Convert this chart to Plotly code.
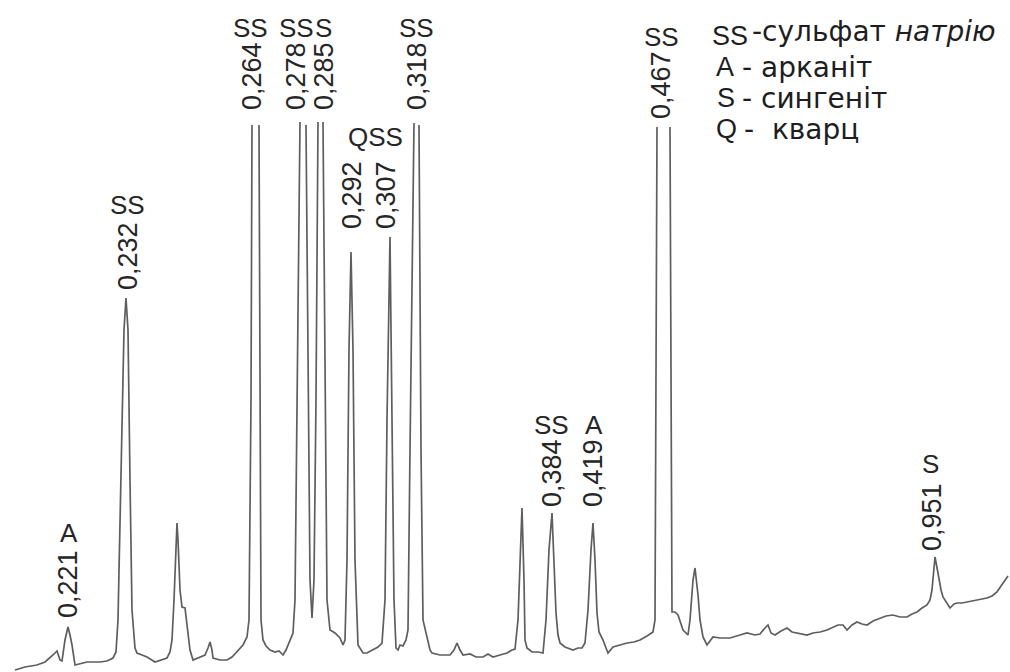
import plotly.graph_objects as go

# ---- data: diffractogram trace (scan position, intensity); None = clipped peak top ----
scan_pos = [15, 25, 37, 45, 53, 57, 60, 62, 65, 68, 70, 72, 75, 87, 100, 107, 113, 116, 118, 121,
            124, 126, 128, 130, 132, 135, 137, 142, 147, 155, 160, 167, 170, 172, 174, 176, 177, 178,
            180, 182, 185, 187, 190, 193, 198, 205, 208, 210, 212, 213, 220, 227, 232, 237, 243, 247,
            249, 251, 252, None, 259, 260, 261, 263, 266, 270, 275, 279, 283, 286, 290, 293, 295, 297,
            300, None, 306, 308, 310, 312, 314, 316, 318, None, 323, 325, 327, 330, 335, 340, 343, 345,
            347, 349, 351, 353, 355, 358, 363, 367, 372, 378, 382, 385, 387, 390, 392, 394, 396, 398,
            400, 403, 406, 408, 410, 414, None, 419, 421, 423, 427, 430, 432, 440, 450, 454, 457, 460,
            463, 470, 476, 483, 488, 493, 500, 507, 512, 515, 518, 520, 522, 524, 525, 527, 532, 538,
            543, 546, 549, 552, 554, 556, 558, 560, 565, 573, 578, 582, 585, 588, 591, 593, 595, 597,
            599, 603, 606, 608, 613, 620, 627, 634, 640, 647, 653, 655, 656, 657, None, 670, 671, 672,
            675, 678, 683, 688, 690, 693, 695, 698, 700, 703, 707, 713, 720, 730, 740, 747, 755, 760,
            765, 768, 771, 775, 781, 787, 792, 797, 807, 813, 820, 827, 833, 838, 843, 847, 852, 857,
            862, 867, 873, 880, 886, 893, 900, 907, 912, 917, 922, 927, 930, 932, 935, 938, 941, 943,
            947, 950, 954, 957, 962, 967, 972, 977, 982, 987, 992, 997, 1001, 1005, 1008]

intensity = [2, 5, 7, 10, 17, 21, 12, 11, 32, 45, 37, 27, 7, 10, 10, 11, 14, 20, 52, 192,
             342, 374, 342, 192, 62, 24, 19, 17, 15, 10, 12, 14, 20, 32, 72, 132, 149, 132,
             82, 65, 64, 47, 22, 12, 14, 17, 24, 30, 22, 14, 12, 12, 15, 20, 27, 35,
             52, 272, 547, None, 547, 272, 52, 32, 26, 22, 20, 21, 17, 22, 32, 39, 72, 272,
             550, None, 547, 272, 92, 54, 92, 272, 550, None, 550, 272, 72, 42, 39, 34, 27, 32,
             112, 322, 420, 322, 112, 27, 19, 19, 22, 25, 29, 72, 252, 435, 252, 72, 24, 22,
             27, 26, 32, 42, 222, 549, None, 547, 222, 52, 35, 22, 19, 17, 17, 22, 29, 22,
             17, 18, 15, 15, 18, 15, 17, 19, 22, 23, 52, 112, 164, 92, 32, 24, 20, 20,
             19, 52, 122, 159, 112, 59, 37, 29, 25, 22, 24, 24, 29, 62, 122, 149, 112, 59,
             40, 32, 24, 19, 25, 27, 29, 30, 32, 36, 40, 52, 272, 545, None, 545, 272, 60,
             60, 57, 42, 37, 52, 92, 104, 77, 52, 35, 27, 35, 34, 34, 37, 39, 37, 38,
             44, 47, 39, 37, 41, 44, 40, 39, 37, 39, 40, 42, 45, 47, 47, 42, 47, 50,
             48, 47, 51, 54, 56, 57, 55, 55, 58, 60, 64, 67, 72, 82, 115, 99, 82, 75,
             68, 64, 68, 69, 69, 70, 71, 72, 73, 74, 76, 80, 86, 92, 96]

# ---- peak annotations: d-spacing (nm) and phase ----
d_labels = ["0,221", "0,232", "0,264", "0,278", "0,285", "0,292", "0,307", "0,318",
            "0,384", "0,419", "0,467", "0,951"]
phase_labels = ["A", "SS", "SS", "SS", "S", "SS", "SS", "A", "SS", "S", "QSS"]

legend_codes = ["SS", "A", "S", "Q"]
legend_names = ["-сульфат <i>натрію</i>", "- арканіт", "- сингеніт", "-\u00a0\u00a0кварц"]

# ---- layout positions (scan position, height) for the labels ----
d_pos = [(68, 88), (128, 416), (252, 596), (296, 596), (324, 596), (352, 477), (386, 477),
         (417, 596), (552, 199), (593, 199), (661, 587), (932, 155)]
phase_pos = [(69, 139), (127, 467), (250, 644), (296, 644), (323, 644), (416, 644),
             (551, 247), (594, 247), (661, 635), (930, 208), (375, 535)]

fig = go.Figure()
fig.add_trace(go.Scatter(x=scan_pos, y=intensity, mode="lines",
                         line=dict(color="#5e5e5e", width=1.7), connectgaps=False,
                         hoverinfo="skip", showlegend=False))

num_font = dict(family="Liberation Sans, Arial, sans-serif", size=27, color="#262626")
let_font = dict(family="Liberation Sans, Arial, sans-serif", size=26, color="#262626")

anns = []
for txt, (x, y) in zip(d_labels, d_pos):
    anns.append(dict(x=x, y=y, text=txt, textangle=-90, showarrow=False,
                     xanchor="center", yanchor="middle", font=num_font))
for txt, (x, y) in zip(phase_labels, phase_pos):
    anns.append(dict(x=x, y=y, text=txt, showarrow=False,
                     xanchor="center", yanchor="middle", font=let_font))

# legend block (top right)
leg_code_x = [710, 714, 715, 714]
leg_code_y = [636, 605, 574, 543]
leg_name_x = [750, 740, 740, 742]
leg_name_y = [641, 605, 574, 543]
leg_name_size = [28, 28, 28, 28]
code_font = dict(family="Liberation Sans, Arial, sans-serif", size=27, color="#1e1e1e")
for c, n, cx, cy, nx, ny, ns in zip(legend_codes, legend_names, leg_code_x, leg_code_y,
                                    leg_name_x, leg_name_y, leg_name_size):
    anns.append(dict(x=cx, y=cy, text=c, showarrow=False, xanchor="left", yanchor="middle",
                     font=code_font))
    anns.append(dict(x=nx, y=ny, text=n, showarrow=False, xanchor="left", yanchor="middle",
                     font=dict(family="DejaVu Sans, sans-serif", size=ns, color="#1e1e1e")))

fig.update_layout(
    width=1010, height=672,
    margin=dict(l=0, r=0, t=0, b=0),
    paper_bgcolor="white", plot_bgcolor="white",
    xaxis=dict(range=[0, 1010], visible=False, fixedrange=True),
    yaxis=dict(range=[0, 672], visible=False, fixedrange=True),
    annotations=anns,
    showlegend=False,
)

fig.write_html("out.html", config={"displayModeBar": False},
               post_script="document.body.style.margin='0';document.body.style.overflow='hidden';")
